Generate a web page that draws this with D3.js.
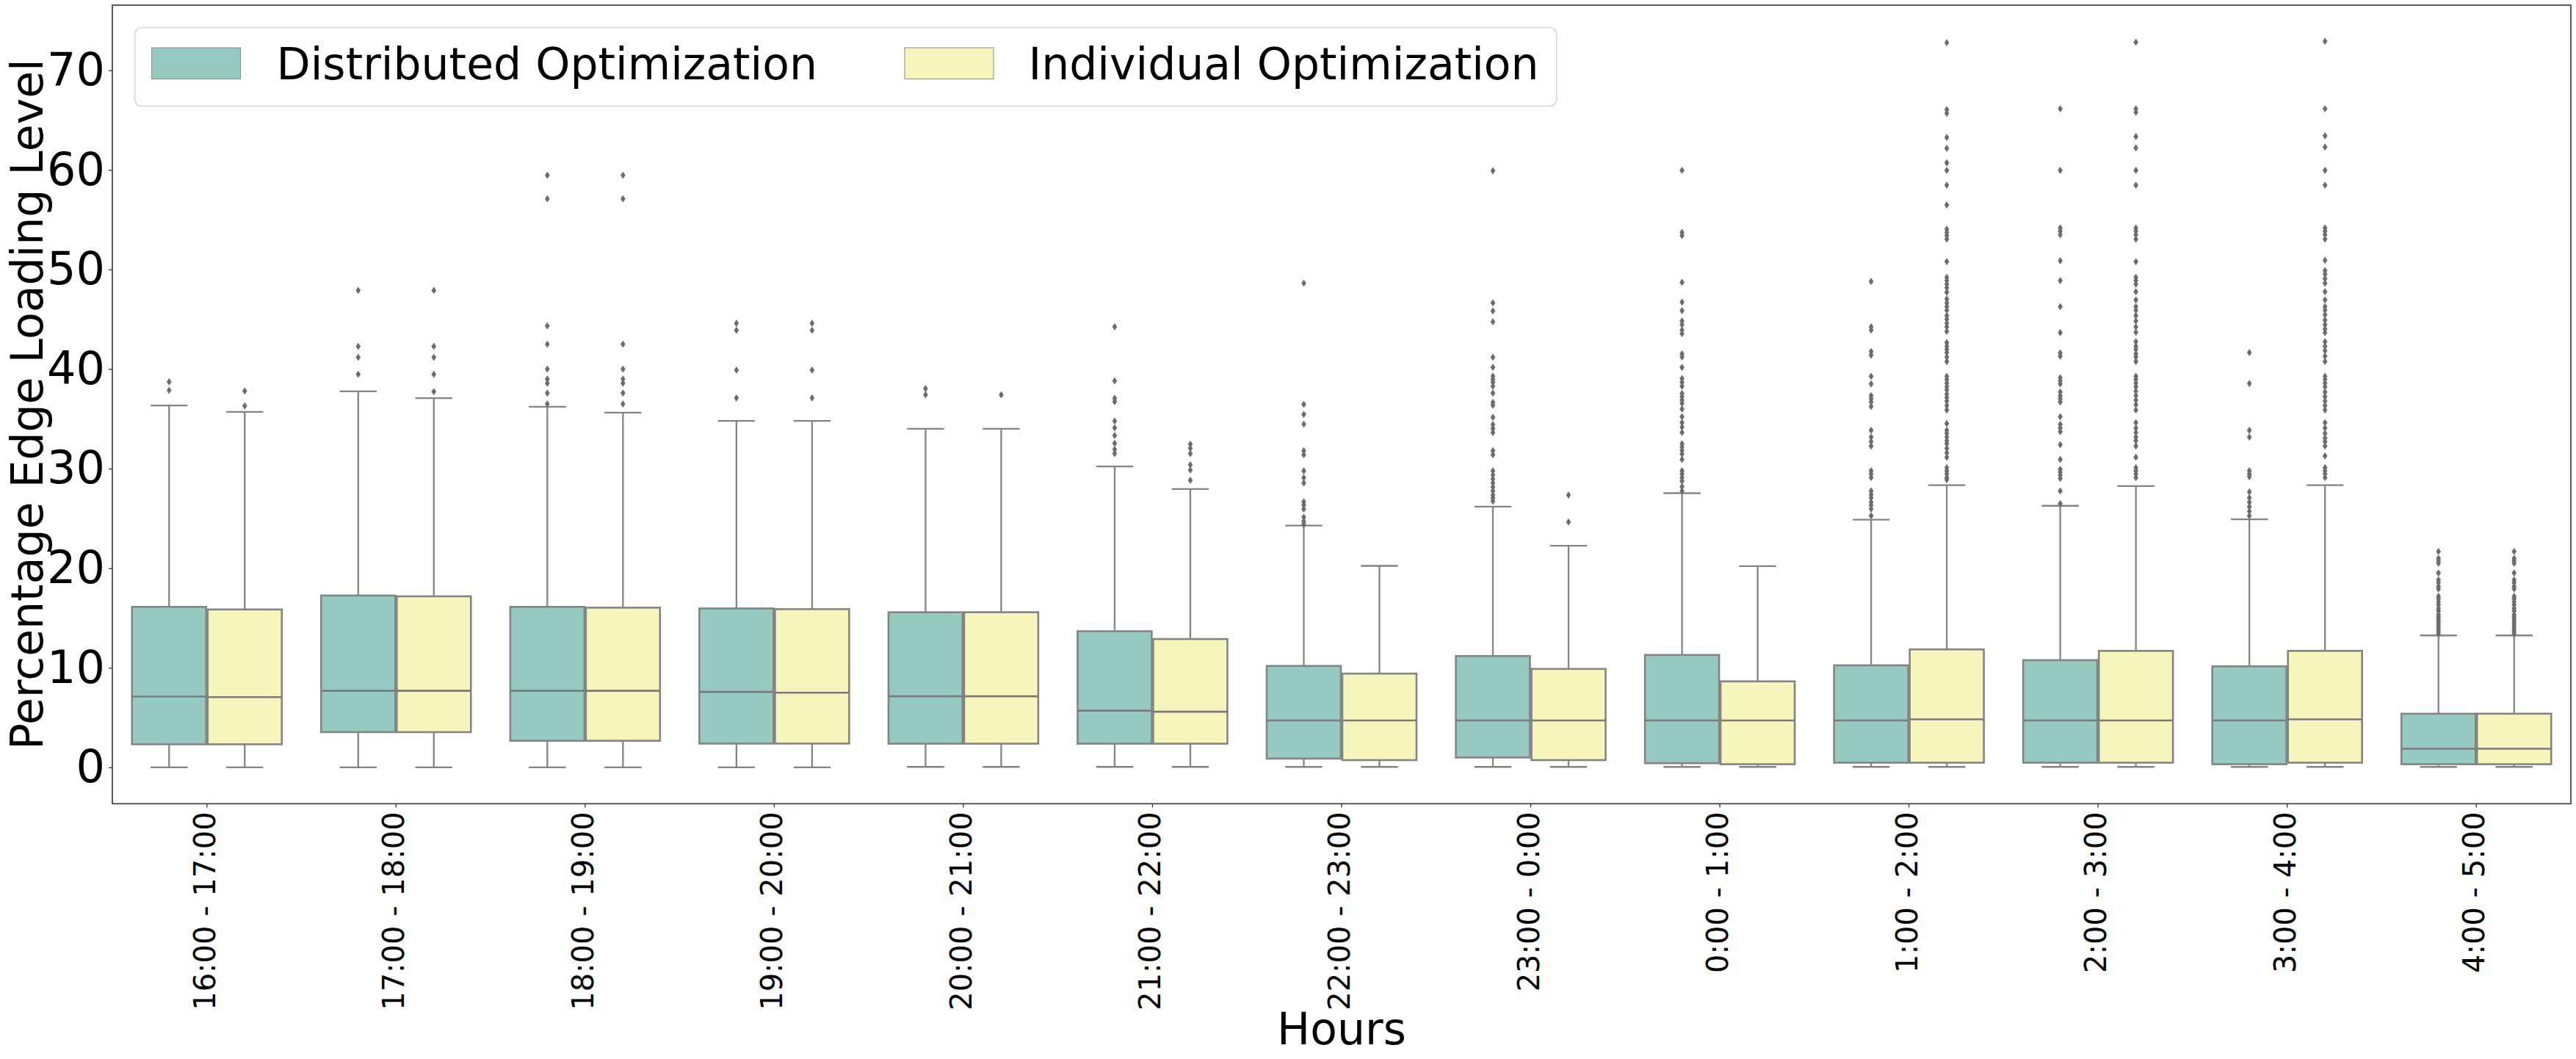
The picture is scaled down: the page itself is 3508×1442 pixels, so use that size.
<!DOCTYPE html>
<html>
<head>
<meta charset="utf-8">
<script src="https://cdn.jsdelivr.net/npm/d3@7"></script>
<style>
  html, body { margin: 0; padding: 0; background: #fff; }
  svg { display: block; font-family: 'DejaVu Sans', sans-serif; }
</style>
</head>
<body>
<div id="chart"></div>
<script>
const WIDTH = 3508;
const HEIGHT = 1442;

// Categories and series
const HOURS = [
  '16:00 - 17:00', '17:00 - 18:00', '18:00 - 19:00', '19:00 - 20:00', '20:00 - 21:00',
  '21:00 - 22:00', '22:00 - 23:00', '23:00 - 0:00', '0:00 - 1:00', '1:00 - 2:00',
  '2:00 - 3:00', '3:00 - 4:00', '4:00 - 5:00',
];
const SERIES = ['Distributed Optimization', 'Individual Optimization'];
const Y_TICKS = [0, 10, 20, 30, 40, 50, 60, 70];

// Distributed Optimization box stats
const distLow = [0, 0, 0, 0, 0.05, 0.05, 0.05, 0.05, 0.05, 0.05, 0.05, 0.05, 0.05];
const distQ1 = [2.32, 3.54, 2.67, 2.39, 2.38, 2.38, 0.88, 0.99, 0.42, 0.47, 0.47, 0.32, 0.32];
const distMedian = [7.11, 7.69, 7.69, 7.58, 7.14, 5.7, 4.71, 4.71, 4.71, 4.71, 4.71, 4.71, 1.87];
const distQ3 = [16.12, 17.26, 16.12, 15.96, 15.58, 13.67, 10.19, 11.18, 11.29, 10.25, 10.77, 10.15, 5.39];
const distHigh = [36.35, 37.76, 36.21, 34.8, 34.0, 30.22, 24.28, 26.19, 27.54, 24.87, 26.27, 24.91, 13.25];
const distOutliers = [
  [38.72, 37.87],
  [47.9, 42.28, 41.18, 39.48],
  [59.47, 57.1, 44.34, 42.5, 40.0, 39.0, 38.58, 37.59, 36.5],
  [44.6, 43.9, 39.9, 37.1],
  [38.04, 37.42],
  [44.25, 38.82, 37.06, 36.74, 34.78, 34.1, 33.33, 32.55, 31.93, 31.52],
  [48.63, 36.46, 35.45, 34.47, 31.8, 31.4, 29.78, 29.09, 28.56, 26.67, 26.34, 25.94, 25.13, 24.72, 24.4],
  [59.92, 46.65, 45.84, 44.75, 41.19, 40.18, 39.29, 38.96, 38.68, 38.28, 37.59, 36.66, 36.37, 35.16,
    34.43, 34.03, 33.62, 31.8, 31.4, 29.78, 29.37, 28.97, 28.56, 28.16, 27.76, 27.35, 27.07, 26.74],
  [59.96, 53.73, 53.41, 48.71, 46.72, 45.87, 44.83, 44.47, 43.92, 43.56, 41.53, 41.21, 40.17, 39.05,
    38.68, 38.28, 37.55, 37.24, 36.88, 36.56, 35.98, 35.21, 34.62, 34.17, 33.63, 32.5, 32.18, 31.82,
    31.46, 30.92, 29.79, 29.47, 29.11, 28.75, 28.2, 27.76],
  [48.8, 44.24, 43.92, 41.76, 41.4, 39.27, 38.51, 37.33, 37.02, 36.7, 36.25, 33.85, 33.17, 32.72,
    32.27, 29.79, 29.47, 29.11, 27.76, 27.4, 27.08, 26.63, 26.31, 25.95, 25.27],
  [66.14, 59.96, 54.17, 53.86, 53.5, 50.88, 48.89, 46.27, 43.66, 41.62, 41.3, 39.13, 38.82, 38.51,
    37.7, 37.33, 37.02, 36.7, 35.21, 34.44, 34.08, 33.72, 32.41, 30.92, 29.93, 29.65, 29.34, 29.02,
    27.76, 26.49],
  [41.66, 38.55, 33.85, 33.17, 29.79, 29.47, 29.2, 27.67, 27.08, 26.63, 26.18, 25.73, 25.27],
  [21.68, 20.99, 20.75, 20.5, 19.52, 18.83, 18.54, 18.17, 17.92, 17.18, 16.94, 16.62, 16.32, 15.96,
    15.71, 15.34, 15.14, 14.89, 14.65, 14.41, 14.16, 13.91, 13.67, 13.42],
];

// Individual Optimization box stats
const indLow = [0, 0, 0, 0, 0.05, 0.05, 0.05, 0.05, 0.05, 0.05, 0.05, 0.05, 0.05];
const indQ1 = [2.32, 3.54, 2.67, 2.39, 2.38, 2.38, 0.73, 0.73, 0.32, 0.47, 0.47, 0.47, 0.32];
const indMedian = [7.06, 7.69, 7.69, 7.5, 7.14, 5.59, 4.71, 4.71, 4.71, 4.82, 4.71, 4.82, 1.87];
const indQ3 = [15.86, 17.18, 16.04, 15.89, 15.58, 12.89, 9.42, 9.89, 8.64, 11.85, 11.7, 11.7, 5.39];
const indHigh = [35.7, 37.08, 35.62, 34.8, 34.0, 27.95, 20.24, 22.26, 20.21, 28.34, 28.25, 28.34, 13.25];
const indOutliers = [
  [37.8, 36.3],
  [47.9, 42.28, 41.18, 39.48, 37.73],
  [59.47, 57.1, 42.5, 40.0, 39.0, 38.58, 37.59, 36.5],
  [44.6, 43.9, 39.9, 37.1],
  [37.42],
  [32.45, 32.04, 31.52, 30.38, 29.86, 28.83],
  [],
  [27.35, 24.64],
  [],
  [72.78, 66.05, 65.69, 63.26, 62.17, 60.72, 59.96, 58.47, 56.48, 54.04, 53.73, 53.41, 53.05, 50.79,
    49.21, 48.89, 48.53, 48.17, 47.72, 47.04, 46.64, 46.27, 45.91, 45.37, 45.01, 44.6, 44.24, 43.79,
    42.66, 42.3, 41.98, 41.66, 41.21, 40.76, 39.27, 38.96, 38.59, 38.23, 37.92, 37.47, 37.15, 36.79,
    36.34, 35.89, 34.53, 33.85, 33.54, 33.17, 32.81, 32.5, 32.04, 31.59, 31.14, 30.1, 29.79, 29.47,
    29.11, 28.89],
  [72.83, 66.14, 65.79, 63.35, 62.22, 59.96, 58.47, 54.17, 53.86, 53.5, 53.05, 50.79, 49.21, 48.89,
    48.53, 47.77, 46.95, 46.27, 45.91, 45.37, 44.83, 44.24, 43.7, 42.75, 42.3, 41.98, 41.53, 41.21,
    40.76, 39.27, 38.96, 38.59, 38.23, 37.78, 37.33, 36.88, 36.43, 35.89, 34.62, 34.08, 33.63, 33.17,
    32.81, 32.27, 31.14, 30.1, 29.79, 29.47, 29.11],
  [72.92, 66.14, 63.43, 62.3, 59.96, 58.47, 54.17, 53.86, 53.5, 53.05, 50.92, 49.89, 49.53, 49.07,
    48.62, 47.77, 46.95, 46.27, 45.91, 45.46, 44.92, 44.47, 44.02, 43.66, 42.75, 42.3, 41.85, 41.3,
    40.76, 39.27, 38.96, 38.59, 38.23, 37.7, 37.24, 36.79, 36.34, 35.89, 34.62, 34.08, 33.54, 33.08,
    32.72, 32.27, 31.28, 30.1, 29.79, 29.47, 29.11],
  [21.68, 20.99, 20.75, 20.5, 19.52, 18.83, 18.54, 18.17, 17.92, 17.18, 16.94, 16.62, 16.32, 15.96,
    15.71, 15.34, 15.14, 14.89, 14.65, 14.41, 14.16, 13.91, 13.67, 13.42],
];

const COLORS = ['#96cac1', '#f6f6bc'];
const LINE_GRAY = '#848484';
const FLIER_GRAY = '#6b6b6b';
const AXIS_COLOR = '#333';

const plot = { left: 153, right: 3501, top: 7, bottom: 1094.4 };

const buildRows = () => {
  const sources = [
    { low: distLow, q1: distQ1, med: distMedian, q3: distQ3, high: distHigh, out: distOutliers },
    { low: indLow, q1: indQ1, med: indMedian, q3: indQ3, high: indHigh, out: indOutliers },
  ];
  const rows = [];
  HOURS.forEach((hour, i) => {
    sources.forEach((s, k) => {
      rows.push({
        hour,
        series: SERIES[k],
        low: s.low[i],
        q1: s.q1[i],
        med: s.med[i],
        q3: s.q3[i],
        high: s.high[i],
        outliers: s.out[i],
      });
    });
  });
  return rows;
};

const drawAxes = ({ svg, x, y }) => {
  const yAxis = d3.axisLeft(y).tickValues(Y_TICKS).tickSize(5).tickPadding(5);
  const gy = svg.append('g').attr('transform', `translate(${plot.left}, 0)`).call(yAxis);
  gy.select('.domain').remove();
  gy.selectAll('.tick line').attr('stroke', AXIS_COLOR).attr('stroke-width', 1.3);
  gy.selectAll('.tick text')
    .attr('fill', '#000')
    .style('font-size', '62px')
    .style('font-family', "'DejaVu Sans', sans-serif");

  const xAxis = d3.axisBottom(x).tickSize(5).tickFormat('');
  const gx = svg.append('g').attr('transform', `translate(0, ${plot.bottom})`).call(xAxis);
  gx.select('.domain').remove();
  gx.selectAll('.tick line').attr('stroke', AXIS_COLOR).attr('stroke-width', 1.3);

  // rotated hour labels
  svg
    .append('g')
    .selectAll('text')
    .data(HOURS)
    .join('text')
    .attr('transform', (d) => `translate(${x(d) + x.bandwidth() / 2 + 11}, ${plot.bottom + 11}) rotate(-90)`)
    .attr('text-anchor', 'end')
    .style('font-size', '40px')
    .attr('fill', '#000')
    .text((d) => d);

  // frame
  svg
    .append('rect')
    .attr('x', plot.left)
    .attr('y', plot.top)
    .attr('width', plot.right - plot.left)
    .attr('height', plot.bottom - plot.top)
    .attr('fill', 'none')
    .attr('stroke', AXIS_COLOR)
    .attr('stroke-width', 1.6);

  svg
    .append('text')
    .attr('transform', `translate(58, ${(plot.top + plot.bottom) / 2}) rotate(-90)`)
    .attr('text-anchor', 'middle')
    .style('font-size', '60px')
    .text('Percentage Edge Loading Level');

  svg
    .append('text')
    .attr('x', (plot.left + plot.right) / 2)
    .attr('y', 1421.7)
    .attr('text-anchor', 'middle')
    .style('font-size', '60px')
    .text('Hours');
};

const drawLegend = (svg) => {
  const legend = svg.append('g');
  legend
    .append('rect')
    .attr('x', 183.7)
    .attr('y', 37.5)
    .attr('width', 1936)
    .attr('height', 107)
    .attr('rx', 9)
    .attr('fill', '#fff')
    .attr('fill-opacity', 0.8)
    .attr('stroke', '#d6d6d6')
    .attr('stroke-width', 1.6);

  const items = [
    { patchX: 206.6, textX: 376.5 },
    { patchX: 1232, textX: 1400.5 },
  ];
  items.forEach((item, k) => {
    legend
      .append('rect')
      .attr('x', item.patchX)
      .attr('y', 65)
      .attr('width', 121)
      .attr('height', 42.5)
      .attr('fill', COLORS[k])
      .attr('stroke', '#8a8a8a')
      .attr('stroke-width', 1);
    legend
      .append('text')
      .attr('x', item.textX)
      .attr('y', 108.3)
      .style('font-size', '60px')
      .attr('fill', '#000')
      .text(SERIES[k]);
  });
};

const renderChart = () => {
  const svg = d3.select('#chart').append('svg').attr('width', WIDTH).attr('height', HEIGHT);

  const x = d3.scaleBand().domain(HOURS).range([plot.left, plot.right]).paddingInner(0).paddingOuter(0);
  const hue = d3.scaleBand().domain(SERIES).range([0, x.bandwidth() * 0.8]);
  const y = d3.scaleLinear().domain([-3.65, 76.55]).range([plot.bottom, plot.top]);
  const color = d3.scaleOrdinal().domain(SERIES).range(COLORS);

  const rows = buildRows();
  const boxW = hue.bandwidth() * 0.98;
  const centerOf = (d) => x(d.hour) + x.bandwidth() * 0.1 + hue(d.series) + hue.bandwidth() / 2;

  const groups = svg.append('g').selectAll('g').data(rows).join('g');

  // whiskers
  groups
    .append('line')
    .attr('x1', centerOf)
    .attr('x2', centerOf)
    .attr('y1', (d) => y(d.q3))
    .attr('y2', (d) => y(d.high))
    .attr('stroke', LINE_GRAY)
    .attr('stroke-width', 2.3);
  groups
    .append('line')
    .attr('x1', centerOf)
    .attr('x2', centerOf)
    .attr('y1', (d) => y(d.q1))
    .attr('y2', (d) => y(d.low))
    .attr('stroke', LINE_GRAY)
    .attr('stroke-width', 2.3);

  // caps
  ['high', 'low'].forEach((key) => {
    groups
      .append('line')
      .attr('x1', (d) => centerOf(d) - boxW / 4)
      .attr('x2', (d) => centerOf(d) + boxW / 4)
      .attr('y1', (d) => y(d[key]))
      .attr('y2', (d) => y(d[key]))
      .attr('stroke', LINE_GRAY)
      .attr('stroke-width', 2.3);
  });

  // boxes
  groups
    .append('rect')
    .attr('x', (d) => centerOf(d) - boxW / 2)
    .attr('width', boxW)
    .attr('y', (d) => y(d.q3))
    .attr('height', (d) => y(d.q1) - y(d.q3))
    .attr('fill', (d) => color(d.series))
    .attr('stroke', LINE_GRAY)
    .attr('stroke-width', 2.6);

  // medians
  groups
    .append('line')
    .attr('x1', (d) => centerOf(d) - boxW / 2)
    .attr('x2', (d) => centerOf(d) + boxW / 2)
    .attr('y1', (d) => y(d.med))
    .attr('y2', (d) => y(d.med))
    .attr('stroke', '#7a7a7a')
    .attr('stroke-width', 2.6);

  // fliers (thin diamonds)
  const diamond = 'M0,-4.4L2.9,0L0,4.4L-2.9,0Z';
  groups
    .selectAll('path.flier')
    .data((d) => d.outliers.map((v) => ({ v, cx: centerOf(d) })))
    .join('path')
    .attr('class', 'flier')
    .attr('d', diamond)
    .attr('transform', (p) => `translate(${p.cx}, ${y(p.v)})`)
    .attr('fill', FLIER_GRAY)
    .attr('stroke', FLIER_GRAY)
    .attr('stroke-width', 0.8);

  drawAxes({ svg, x, y });
  drawLegend(svg);
};

renderChart();
</script>
</body>
</html>
